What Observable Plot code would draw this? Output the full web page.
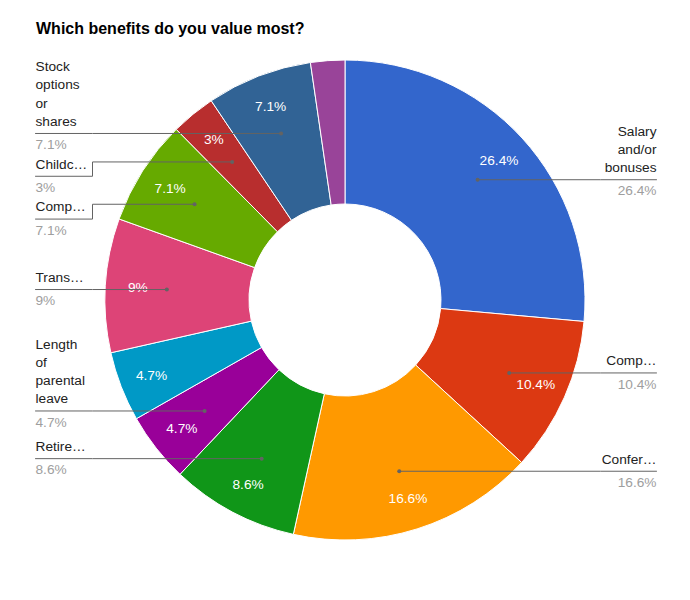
<!DOCTYPE html>
<html>
<head>
<meta charset="utf-8">
<script src="https://cdn.jsdelivr.net/npm/d3@7"></script>
<script src="https://cdn.jsdelivr.net/npm/@observablehq/plot@0.6"></script>
<style>
  html, body { margin: 0; padding: 0; background: #fff; }
  #title { height: 50px; box-sizing: border-box; padding: 20px 0 0 36px; font: bold 16px "Liberation Sans", Arial, sans-serif; line-height: 18px; color: #000; }
  #chart svg { display: block; }
</style>
</head>
<body>
<div id="title">Which benefits do you value most?</div>
<div id="chart"></div>
<script>
// ---- data ----
const names = ["Salary and/or bonuses", "Comp…", "Confer…", "Retire…", "Length of parental leave", "(unlabeled)", "Trans…", "Comp…", "Childc…", "Stock options or shares", "(unlabeled)"];
const values = [26.4, 10.4, 16.6, 8.6, 4.7, 4.7, 9, 7.1, 3, 7.1, 2.3];
const colors = ["#3366cc", "#dc3912", "#ff9900", "#109618", "#990099", "#0099c6", "#dd4477", "#66aa00", "#b82e2e", "#316395", "#994499"];
const labelLines = [
  ["Salary", "and/or", "bonuses"],
  ["Comp…"],
  ["Confer…"],
  ["Retire…"],
  ["Length", "of", "parental", "leave"],
  [],
  ["Trans…"],
  ["Comp…"],
  ["Childc…"],
  ["Stock", "options", "or", "shares"],
  []
];

// ---- geometry (chart units = pixels, origin at the donut centre) ----
const R_OUT = 240, R_IN = 96, R_TEXT = 208, R_DOT = 179;
const LEFT_X = -310, RIGHT_X = 311, LEFT_KINK = -253, RIGHT_KINK = 255;
const LINE_STEP = 18.2, NAME_GAP = 12, VALUE_GAP = 11.3, BLOCK_GAP = 19.5;
const FS = 13.7;

const arcs = d3.pie().sort(null).value(d => d)(values);
const slices = arcs.map((a, i) => {
  const mid = (a.startAngle + a.endAngle) / 2;
  return {
    i, name: names[i], value: values[i], color: colors[i], lines: labelLines[i],
    pct: values[i] + "%",
    span: a.endAngle - a.startAngle,
    tx: R_TEXT * Math.sin(mid), ty: -R_TEXT * Math.cos(mid),
    dx: R_DOT * Math.sin(mid), dy: -R_DOT * Math.cos(mid),
    side: mid < Math.PI ? "right" : "left"
  };
});

// label layout with simple collision avoidance per side
const labeled = slices.filter(s => s.lines.length);
for (const side of ["right", "left"]) {
  const group = labeled.filter(s => s.side === side).sort((a, b) => a.dy - b.dy);
  let prevValueY = -Infinity;
  for (const s of group) {
    const minLine = prevValueY + BLOCK_GAP + (s.lines.length - 1) * LINE_STEP + NAME_GAP;
    s.lineY = Math.max(s.dy, minLine);
    prevValueY = s.lineY + VALUE_GAP;
  }
}

const nameRows = [];
const valueRows = [];
const connector = [];
for (const s of labeled) {
  const x = s.side === "right" ? RIGHT_X : LEFT_X;
  const kink = s.side === "right" ? RIGHT_KINK : LEFT_KINK;
  const n = s.lines.length;
  s.lines.forEach((t, j) => nameRows.push({ text: t, x, y: s.lineY - NAME_GAP - (n - 1 - j) * LINE_STEP, side: s.side }));
  valueRows.push({ text: s.pct, x, y: s.lineY + VALUE_GAP, side: s.side });
  connector.push({ id: s.i, x, y: s.lineY });
  connector.push({ id: s.i, x: kink, y: s.lineY });
  connector.push({ id: s.i, x: kink, y: s.dy });
  connector.push({ id: s.i, x: s.dx, y: s.dy });
}

function donut(index, scales) {
  const cx = scales.x(0), cy = scales.y(0);
  const k = scales.x(1) - scales.x(0);
  const arc = d3.arc().innerRadius(R_IN * k).outerRadius(R_OUT * k);
  const g = d3.create("svg:g").attr("transform", `translate(${cx},${cy})`);
  g.selectAll("path").data(arcs).join("path")
    .attr("d", arc)
    .attr("fill", (d, i) => colors[i])
    .attr("stroke", "#ffffff")
    .attr("stroke-width", 1);
  return g.node();
}

const font = "'Liberation Sans', Arial, sans-serif";
const chart = Plot.plot({
  width: 690,
  height: 550,
  margin: 0,
  style: { background: "#fff", fontFamily: font, fontSize: FS + "px" },
  x: { domain: [-345, 345], range: [0, 690], axis: null },
  y: { domain: [-250, 300], range: [0, 550], axis: null },
  marks: [
    donut,
    Plot.text(slices.filter(s => s.span > 0.17), { x: "tx", y: "ty", text: "pct", fill: "#ffffff", fontSize: FS, fontFamily: font }),
    Plot.line(connector, { x: "x", y: "y", z: "id", stroke: "#636363", strokeWidth: 1 }),
    Plot.dot(labeled, { x: "dx", y: "dy", r: 2, fill: "#636363", stroke: null }),
    Plot.text(nameRows.filter(d => d.side === "left"), { x: "x", y: "y", text: "text", textAnchor: "start", fill: "#222222", fontSize: FS, fontFamily: font }),
    Plot.text(nameRows.filter(d => d.side === "right"), { x: "x", y: "y", text: "text", textAnchor: "end", fill: "#222222", fontSize: FS, fontFamily: font }),
    Plot.text(valueRows.filter(d => d.side === "left"), { x: "x", y: "y", text: "text", textAnchor: "start", fill: "#9e9e9e", fontSize: FS, fontFamily: font }),
    Plot.text(valueRows.filter(d => d.side === "right"), { x: "x", y: "y", text: "text", textAnchor: "end", fill: "#9e9e9e", fontSize: FS, fontFamily: font })
  ]
});
document.getElementById("chart").appendChild(chart);
</script>
</body>
</html>
